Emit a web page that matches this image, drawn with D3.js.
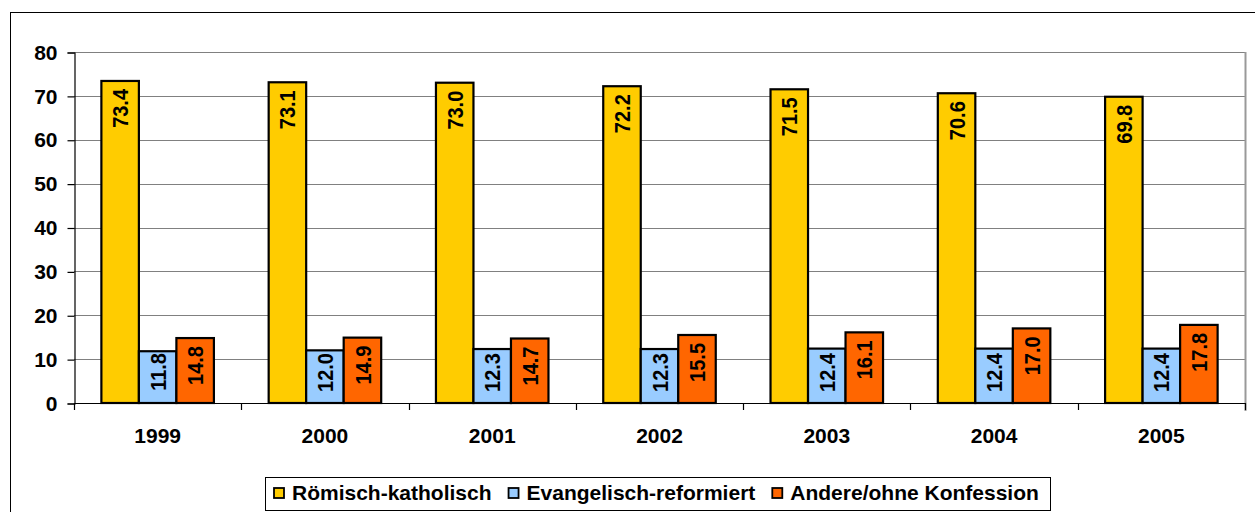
<!DOCTYPE html>
<html>
<head>
<meta charset="utf-8">
<script src="https://cdn.jsdelivr.net/npm/d3@7"></script>
<style>
  body { margin: 0; background: #fff; }
  text { font-family: "Liberation Sans", Arial, sans-serif; font-weight: bold; fill: #000; }
</style>
</head>
<body>
<svg id="chart" width="1255" height="512"></svg>
<script>
// data
const years = ["1999", "2000", "2001", "2002", "2003", "2004", "2005"];
const seriesNames = ["Römisch-katholisch", "Evangelisch-reformiert", "Andere/ohne Konfession"];
const katholisch = [73.4, 73.1, 73.0, 72.2, 71.5, 70.6, 69.8];
const reformiert = [11.8, 12.0, 12.3, 12.3, 12.4, 12.4, 12.4];
const andere = [14.8, 14.9, 14.7, 15.5, 16.1, 17.0, 17.8];
const yTicks = [0, 10, 20, 30, 40, 50, 60, 70, 80];
const colors = ["#FFCC00", "#99CCFF", "#FF6600"];

const svg = d3.select("#chart");
const plot = {left: 74, top: 52, right: 1245, bottom: 403};
const fontSize = "21px";

// outer chart frame (runs past the picture on the right and bottom)
svg.append("rect")
  .attr("x", 10.5).attr("y", 12.5)
  .attr("width", 1270).attr("height", 520)
  .attr("fill", "none").attr("stroke", "#000");

const x = d3.scaleBand().domain(years).range([plot.left, plot.right]);
const xInner = d3.scaleBand().domain(seriesNames)
  .range([0, x.bandwidth()]).paddingOuter(0.73);
const y = d3.scaleLinear().domain([0, 80]).range([plot.bottom, plot.top]);

// gridlines
svg.append("g").selectAll("line").data(yTicks.filter(d => d > 0)).join("line")
  .attr("x1", plot.left).attr("x2", plot.right)
  .attr("y1", d => Math.round(y(d)) + 0.5).attr("y2", d => Math.round(y(d)) + 0.5)
  .attr("stroke", "#808080").attr("stroke-width", 1.2);

// right border of plot area
svg.append("line")
  .attr("x1", plot.right + 0.5).attr("x2", plot.right + 0.5)
  .attr("y1", plot.top).attr("y2", plot.bottom + 8)
  .attr("stroke", "#999").attr("stroke-width", 2);

// y axis
const yAxis = svg.append("g")
  .attr("transform", `translate(${plot.left + 0.5},0.5)`)
  .call(d3.axisLeft(y).tickValues(yTicks).tickSize(7).tickPadding(10));
yAxis.select(".domain").attr("stroke", "#000").attr("stroke-width", 1.2);
yAxis.selectAll(".tick line").attr("stroke", "#000").attr("stroke-width", 1.2);
yAxis.selectAll(".tick text")
  .style("font-size", fontSize).style("font-family", "Liberation Sans, Arial, sans-serif")
  .style("font-weight", "bold").attr("fill", "#000");

// x axis with ticks at category boundaries
svg.append("line")
  .attr("x1", plot.left).attr("x2", plot.right)
  .attr("y1", plot.bottom + 0.5).attr("y2", plot.bottom + 0.5)
  .attr("stroke", "#000").attr("stroke-width", 1.2);
svg.append("g").selectAll("line").data(years.concat(["end"])).join("line")
  .attr("x1", (d, i) => Math.round(plot.left + i * x.step()) + 0.5)
  .attr("x2", (d, i) => Math.round(plot.left + i * x.step()) + 0.5)
  .attr("y1", plot.bottom).attr("y2", plot.bottom + 7)
  .attr("stroke", "#000").attr("stroke-width", 1.2);
svg.append("g").selectAll("text").data(years).join("text")
  .attr("x", d => x(d) + x.bandwidth() / 2)
  .attr("y", 443)
  .attr("text-anchor", "middle")
  .style("font-size", fontSize)
  .text(d => d);

// bars
const rows = years.map((yr, i) => ({
  year: yr,
  values: [katholisch[i], reformiert[i], andere[i]]
}));

const groups = svg.append("g").selectAll("g").data(rows).join("g")
  .attr("transform", d => `translate(${x(d.year)},0)`);

groups.selectAll("rect")
  .data(d => d.values.map((v, k) => ({name: seriesNames[k], value: v, k: k})))
  .join("rect")
  .attr("x", d => xInner(d.name))
  .attr("y", d => y(d.value))
  .attr("width", xInner.bandwidth())
  .attr("height", d => plot.bottom - y(d.value))
  .attr("fill", d => colors[d.k])
  .attr("stroke", "#000").attr("stroke-width", 2.2);

// rotated value labels, inside the top end of each bar
const labelLen = 39;
groups.selectAll("text.val")
  .data(d => d.values.map((v, k) => ({name: seriesNames[k], value: v, k: k})))
  .join("text")
  .attr("class", "val")
  .attr("transform", d => {
    let top = y(d.value) + 8;
    if (top + labelLen > plot.bottom - 11) top = plot.bottom - 11 - labelLen;
    const cx = xInner(d.name) + xInner.bandwidth() / 2;
    return `translate(${cx},${top}) scale(1.12,1) rotate(-90)`;
  })
  .attr("text-anchor", "end")
  .attr("dy", "0.36em")
  .style("font-size", "20px")
  .text(d => d.value.toFixed(1));

// legend
const legend = svg.append("g");
legend.append("rect")
  .attr("x", 265.5).attr("y", 477.5)
  .attr("width", 785).attr("height", 33)
  .attr("fill", "#fff").attr("stroke", "#000");

let lx = 274;
seriesNames.forEach((name, k) => {
  legend.append("rect")
    .attr("x", lx).attr("y", 488)
    .attr("width", 10).attr("height", 10)
    .attr("fill", colors[k]).attr("stroke", "#000").attr("stroke-width", 1.8);
  const t = legend.append("text")
    .attr("x", lx + 18).attr("y", 500)
    .style("font-size", fontSize)
    .text(name);
  lx += 18 + t.node().getComputedTextLength() + 17;
});
</script>
</body>
</html>
